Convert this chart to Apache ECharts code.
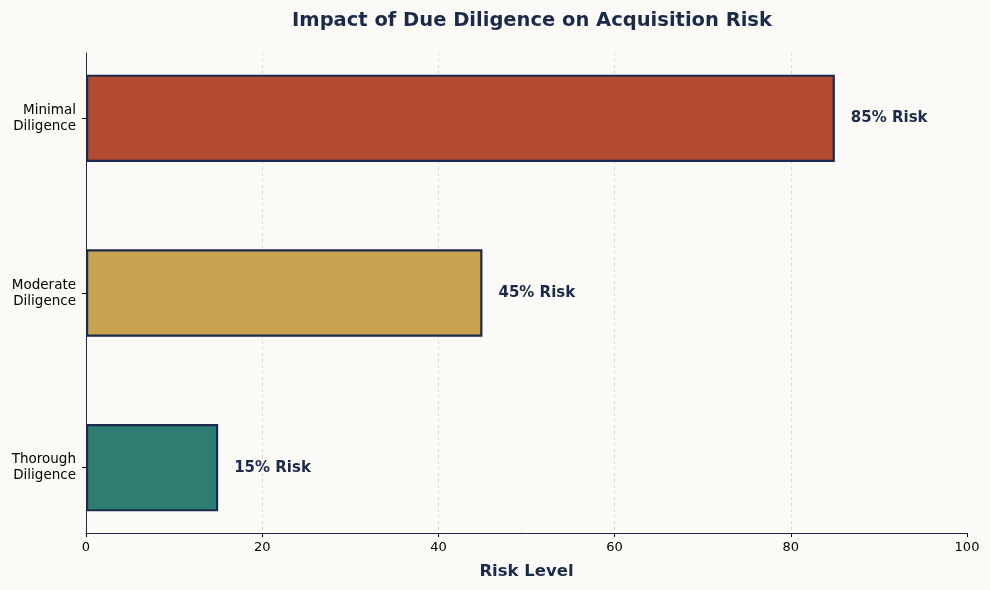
<!DOCTYPE html>
<html>
<head>
<meta charset="utf-8">
<script src="https://cdn.jsdelivr.net/npm/echarts@6/dist/echarts.min.js"></script>
<style>
	html, body { margin: 0; padding: 0; background: #fbfaf7; }
	#chart { width: 990px; height: 590px; }
</style>
</head>
<body>
<div id="chart"></div>
<script>
	"use strict";
	// DATA
	var categories = ['Thorough\nDiligence', 'Moderate\nDiligence', 'Minimal\nDiligence'];
	var riskValues = [15, 45, 85];
	var barColors = ['#2e7d73', '#c8a24e', '#b34a32'];
	var xTicks = [0, 20, 40, 60, 80, 100];

	var navy = '#1b2a4a';
	var font = 'DejaVu Sans';

	var chart = echarts.init(document.getElementById('chart'));
	var option = {
		backgroundColor: '#fbfaf7',
		textStyle: { fontFamily: font },
		title: {
			text: 'Impact of Due Diligence on Acquisition Risk',
			left: 527,
			top: 6,
			textAlign: 'center',
			textStyle: { fontFamily: font, fontSize: 19.5, fontWeight: 'bold', color: navy }
		},
		grid: [
			// frame grid: axes, ticks, gridlines
			{ left: 86, right: 23, top: 53, height: 480 },
			// bar grid: category spacing like matplotlib margins
			{ left: 86, right: 23, top: 31, height: 524 }
		],
		xAxis: [{
			gridIndex: 0,
			type: 'value',
			min: 0,
			max: 100,
			interval: 20,
			name: 'Risk Level',
			nameLocation: 'middle',
			nameGap: 30,
			nameTextStyle: { fontFamily: font, fontSize: 16.5, fontWeight: 'bold', color: navy },
			axisLine: { show: true, lineStyle: { color: navy, width: 1 } },
			axisTick: { show: true, length: 4, lineStyle: { color: '#000' } },
			axisLabel: {
				fontFamily: font, fontSize: 13, color: '#000', margin: 8,
				formatter: function(v) { return xTicks.indexOf(v) >= 0 ? String(v) : ''; }
			},
			splitLine: { show: true, showMaxLine: false, lineStyle: { color: '#cccccc', type: [3, 3], width: 0.7 } }
		}, {
			gridIndex: 1,
			type: 'value',
			min: 0,
			max: 100,
			show: false
		}],
		yAxis: [{
			gridIndex: 0,
			type: 'value',
			min: 0,
			max: 1,
			axisLine: { show: true, lineStyle: { color: navy, width: 1 } },
			axisTick: { show: false },
			axisLabel: { show: false },
			splitLine: { show: false }
		}, {
			gridIndex: 1,
			type: 'category',
			data: categories,
			axisLine: { show: false },
			axisTick: { show: true, alignWithLabel: true, length: 4, lineStyle: { color: '#000' } },
			axisLabel: {
				fontFamily: font, fontSize: 13.5, color: '#000', margin: 10,
				lineHeight: 16, align: 'right', padding: [4, 0, 0, 0]
			},
			splitLine: { show: false }
		}],
		series: [{
			type: 'bar',
			xAxisIndex: 1,
			yAxisIndex: 1,
			barWidth: '50%',
			data: riskValues.map(function(v, i) {
				return { value: v, itemStyle: { color: barColors[i] } };
			}),
			itemStyle: { borderColor: navy, borderWidth: 2.2 },
			label: {
				show: true,
				position: 'right',
				distance: 16,
				fontFamily: font,
				fontSize: 15,
				fontWeight: 'bold',
				color: navy,
				formatter: function(p) { return p.value + '% Risk'; }
			}
		}]
	};
	chart.setOption(option);
</script>
</body>
</html>
